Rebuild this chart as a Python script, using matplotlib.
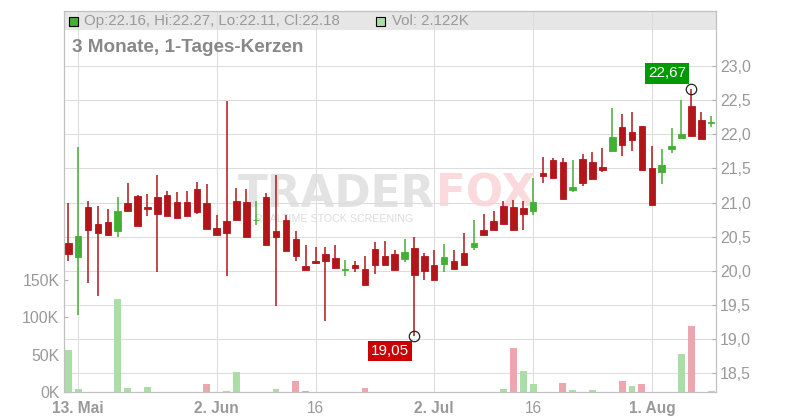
import matplotlib.pyplot as plt
import numpy as np
import pandas as pd
from matplotlib.patches import Rectangle
from matplotlib.transforms import blended_transform_factory

plt.rcParams["font.family"] = ["Liberation Sans", "DejaVu Sans"]

# trading days, 10 May - 9 Aug 2019
dates = pd.bdate_range("2019-05-10", "2019-08-09")

opens = [20.41, 20.21, 20.94, 20.69, 20.72, 20.59, 21.00, 21.10, 20.94, 21.08,
         21.11, 21.01, 21.01, 21.20, 21.00, 20.63, 20.73, 21.03, 21.01, 20.74,
         21.08, 20.58, 20.75, 20.46, 20.07, 20.15, 20.25, 20.19, 20.02, 20.09,
         20.03, 20.32, 20.22, 20.25, 20.17, 20.33, 20.22, 20.08, 20.10, 20.14,
         20.26, 20.35, 20.60, 20.73, 20.95, 20.93, 20.92, 20.88, 21.43, 21.62,
         21.60, 21.18, 21.64, 21.60, 21.52, 21.76, 22.11, 22.04, 22.12, 21.51,
         21.45, 21.78, 21.95, 22.42, 22.21, 22.16]
highs = [21.00, 21.81, 21.03, 20.95, 20.91, 21.08, 21.29, 21.11, 21.13, 21.41,
         21.17, 21.16, 21.17, 21.30, 21.27, 20.82, 22.49, 21.22, 21.20, 21.03,
         21.14, 21.41, 20.82, 20.58, 20.38, 20.35, 20.35, 20.38, 20.16, 20.15,
         20.22, 20.43, 20.44, 20.30, 20.47, 20.49, 20.26, 20.30, 20.39, 20.30,
         20.55, 20.74, 20.83, 20.88, 21.02, 21.04, 21.02, 21.36, 21.67, 21.65,
         21.66, 21.63, 21.71, 21.74, 21.80, 22.39, 22.30, 22.33, 22.12, 21.83,
         21.79, 22.09, 22.50, 22.67, 22.33, 22.27]
lows = [20.15, 19.36, 19.82, 19.63, 20.51, 20.50, 20.87, 20.66, 20.81, 19.99,
        20.80, 20.77, 20.81, 20.83, 20.61, 20.53, 19.93, 20.75, 20.50, 20.67,
        20.38, 19.48, 20.29, 20.14, 20.01, 20.10, 19.26, 20.04, 19.93, 19.99,
        19.79, 19.95, 20.08, 20.01, 20.13, 19.05, 19.87, 19.87, 19.98, 20.03,
        20.08, 20.30, 20.52, 20.60, 20.69, 20.60, 20.60, 20.82, 21.29, 21.36,
        21.05, 21.15, 21.25, 21.34, 21.45, 21.76, 21.68, 21.76, 21.48, 20.97,
        21.27, 21.73, 21.94, 21.98, 21.93, 22.11]
closes = [20.25, 20.51, 20.60, 20.56, 20.52, 20.88, 20.88, 20.66, 20.90, 20.83,
          20.80, 20.77, 20.81, 20.86, 20.61, 20.53, 20.56, 20.75, 20.50, 20.75,
          20.38, 20.50, 20.29, 20.22, 20.01, 20.12, 20.14, 20.04, 20.03, 20.04,
          19.79, 20.08, 20.08, 20.01, 20.28, 19.94, 20.00, 19.87, 20.20, 20.03,
          20.08, 20.41, 20.52, 20.60, 20.69, 20.60, 20.83, 21.01, 21.39, 21.36,
          21.05, 21.23, 21.29, 21.34, 21.48, 21.96, 21.85, 21.91, 21.48, 20.97,
          21.55, 21.83, 22.01, 21.98, 21.93, 22.18]
volumes = [56500, 4400, 0, 0, 0, 124600, 5700, 0, 7100, 0,
           0, 0, 0, 0, 11100, 0, 1700, 27100, 0, 0,
           0, 4400, 0, 15100, 1700, 0, 0, 0, 0, 0,
           5700, 0, 0, 0, 0, 0, 0, 0, 0, 0,
           0, 0, 0, 0, 4400, 59200, 28500, 11100, 0, 0,
           12400, 3100, 0, 3100, 0, 0, 15100, 8400, 11100, 0,
           0, 0, 51100, 88600, 0, 2122]

price_ticks = [18.5, 19.0, 19.5, 20.0, 20.5, 21.0, 21.5, 22.0, 22.5, 23.0]
price_labels = ["18,5", "19,0", "19,5", "20,0", "20,5", "21,0", "21,5", "22,0", "22,5", "23,0"]
vol_ticks = [0, 50000, 100000, 150000]
vol_labels = ["0K", "50K", "100K", "150K"]
date_ticks = ["2019-05-13", "2019-06-02", "2019-06-16", "2019-07-02", "2019-07-16", "2019-08-01"]
date_labels = ["13. Mai", "2. Jun", "16", "2. Jul", "16", "1. Aug"]

RED = "#b2161a"
GREEN = "#45ae35"
VOL_UP = "#aadea6"
VOL_DOWN = "#eea6ae"
GRID = "#dcdcdc"
TEXT = "#999999"
FRAME = "#c0c0c0"

fig = plt.figure(figsize=(8, 4.2), dpi=100)
ax = fig.add_axes([63.5 / 800, 27.7 / 420, 652.5 / 800, 381.3 / 420])
px = ax.twinx()

x = np.arange(len(dates))
o, h, l, c = (np.array(v) for v in (opens, highs, lows, closes))
up = c >= o
vol_up = c >= np.r_[-np.inf, c[:-1]]

# volume (left axis)
ax.bar(x, volumes, width=0.7, color=np.where(vol_up, VOL_UP, VOL_DOWN), zorder=2)

# grid + header band, drawn under the bars
trans = blended_transform_factory(ax.transAxes, px.transData)
for p in price_ticks:
    ax.plot([0, 1], [p, p], transform=trans, color=GRID, lw=0.75, zorder=1)
tick_pos = [dates.searchsorted(pd.Timestamp(d), side="right") - 1 for d in date_ticks]
for t in tick_pos:
    ax.axvline(t, color=GRID, lw=0.75, zorder=1)
band_y = (392.3 - 30) / 381.3
ax.add_patch(Rectangle((0, band_y), 1, 1 - band_y, transform=ax.transAxes,
                       color="#e6e6e6", lw=0, zorder=0.5))

# watermark
ax.text(238 / 800, 1 - 206.7 / 420, "TRADER", transform=fig.transFigure, fontsize=31.5,
        weight="bold", color="#e3e3e3", family="DejaVu Sans", zorder=0.6)
ax.text(436 / 800, 1 - 206.7 / 420, "FOX", transform=fig.transFigure, fontsize=31.5,
        weight="bold", color="#fbdadd", family="DejaVu Sans", zorder=0.6)
ax.text(255 / 800, 1 - 222.5 / 420, "REALTIME STOCK SCREENING", transform=fig.transFigure,
        fontsize=7.7, color="#dcdcdc", zorder=0.6)

# candles (right axis)
cols = np.where(up, GREEN, RED)
px.vlines(x, l, h, colors=cols, linewidth=1.1, zorder=3)
px.bar(x, np.abs(c - o), bottom=np.minimum(o, c), width=0.66, color=cols,
       edgecolor=cols, linewidth=0.6, zorder=4)

i_hi, i_lo = h.argmax(), l.argmin()
px.plot([i_hi, i_lo], [h[i_hi], l[i_lo]], "o", mfc="none", mec="#222222",
        ms=7.5, mew=0.9, zorder=5)
px.annotate(f"{h[i_hi]:.2f}".replace(".", ","), (i_hi, h[i_hi]), xytext=(-4, 5.8),
            textcoords="offset points", ha="right", va="bottom", color="white", fontsize=11,
            bbox=dict(boxstyle="square,pad=0.2", fc="#009900", ec="none"), zorder=6)
px.annotate(f"{l[i_lo]:.2f}".replace(".", ","), (i_lo, l[i_lo]), xytext=(-4, -5.8),
            textcoords="offset points", ha="right", va="top", color="white", fontsize=11,
            bbox=dict(boxstyle="square,pad=0.2", fc="#cc0000", ec="none"), zorder=6)

ax.set_xlim(-0.485, 65.49)
ax.set_ylim(0, 509400)
px.set_ylim(18.2225, 23.805)

ax.set_yticks(vol_ticks, vol_labels)
ax.tick_params(axis="y", direction="in", length=3, color="#b0b0b0",
               labelcolor=TEXT, labelsize=11.4, pad=3)
px.set_yticks(price_ticks, price_labels)
px.tick_params(axis="y", direction="in", length=3, color="#b0b0b0",
               labelcolor=TEXT, labelsize=11.4, pad=3)
ax.set_xticks(tick_pos, date_labels)
ax.tick_params(axis="x", length=0, labelcolor=TEXT, labelsize=11.2, pad=6)
for lab in ax.get_xticklabels():
    if not lab.get_text().isdigit():
        lab.set_fontweight("bold")

for a in (ax, px):
    for s in a.spines.values():
        s.set_color(FRAME)
        s.set_linewidth(0.8)

# header line
fig.add_artist(Rectangle((69 / 800, 1 - 26 / 420), 9 / 800, 9 / 420, transform=fig.transFigure,
                         fc=GREEN, ec="black", lw=0.8))
fig.text(84 / 800, 1 - 21 / 420,
         f"Op:{o[-1]:.2f}, Hi:{h[-1]:.2f}, Lo:{l[-1]:.2f}, Cl:{c[-1]:.2f}",
         color=TEXT, fontsize=10.8, va="center")
fig.add_artist(Rectangle((376 / 800, 1 - 26 / 420), 9 / 800, 9 / 420, transform=fig.transFigure,
                         fc=VOL_UP, ec="black", lw=0.8))
fig.text(392 / 800, 1 - 21 / 420, f"Vol: {volumes[-1] / 1000:.3f}K",
         color=TEXT, fontsize=10.8, va="center")
fig.text(72 / 800, 1 - 47.5 / 420, "3 Monate, 1-Tages-Kerzen", color="#888888",
         fontsize=13.6, weight="bold", va="center")

fig.savefig("out.png", dpi=100)
